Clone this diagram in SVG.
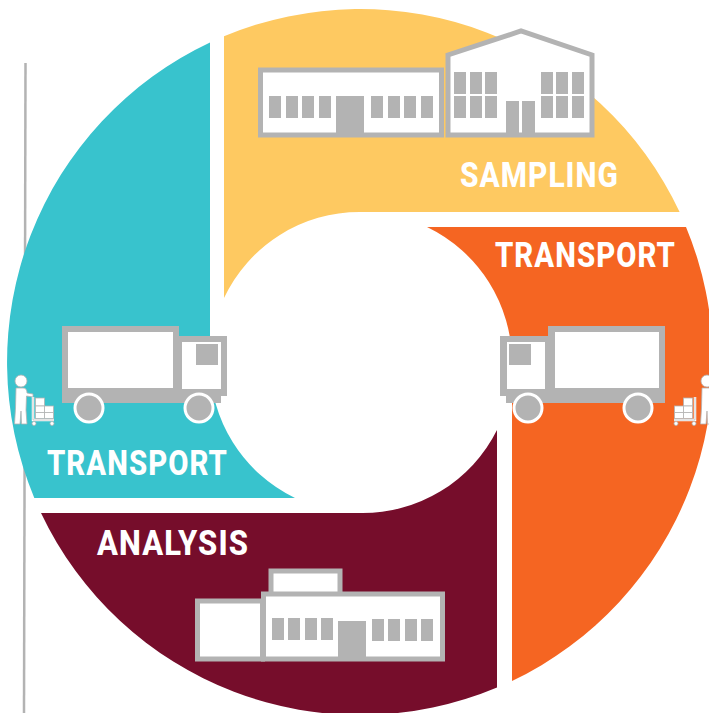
<svg xmlns="http://www.w3.org/2000/svg" width="709" height="713" viewBox="0 0 709 713">
<style>
.g{fill:#b3b3b3}
.w{fill:#fff}
.b{fill:#fff;stroke:#b3b3b3;stroke-width:5}
.t{font-family:"Roboto","Liberation Sans",sans-serif;font-weight:800;font-size:34.500px;fill:#fff;letter-spacing:1.200px}
.o{fill:#fff;stroke:#b3b3b3;stroke-width:.8}
</style>
<defs>
<g id="man">
<circle cx="0" cy="-41" r="6" class="o"/>
<path d="M-5,-34H2C5,-34 6,-32 6,-29L12,-28V-25L5.500,-26L5,-12L6,2H0.500L0,-11L-1,2H-6.500L-5.500,-14Z" class="o"/>
</g>
<g id="cart">
<path d="M1,-24V-1H22" fill="none" stroke="#fff" stroke-width="2.500"/>
<path d="M1,-24V-1H22" fill="none" stroke="#b3b3b3" stroke-width=".7"/>
<rect x="3.500" y="-23" width="9" height="8" class="o"/>
<rect x="3.500" y="-15" width="9" height="6.500" class="o"/>
<rect x="12.500" y="-15" width="9" height="6.500" class="o"/>
<rect x="3.500" y="-8.500" width="9" height="6" class="o"/>
<rect x="12.500" y="-8.500" width="9" height="6" class="o"/>
<circle cx="2" cy="2.500" r="2" class="o"/>
<circle cx="20" cy="2.500" r="2" class="o"/>
</g>
</defs>
<line x1="25.500" y1="63" x2="24" y2="713" stroke="#b3b3b3" stroke-width="2.500" id="rule"/>
<g id="sampling">
<path d="M224,36.300A353,353 0 0 1 679.600,212H360A150,150 0 0 0 224,298Z" fill="#fec961"/>
<rect x="260.500" y="70" width="181" height="65" class="b"/>
<g class="g">
<rect x="269" y="96" width="12" height="22"/><rect x="286" y="96" width="12" height="22"/><rect x="302" y="96" width="12" height="22"/><rect x="319" y="96" width="12" height="22"/>
<rect x="336" y="96" width="28" height="37"/>
<rect x="371" y="96" width="12" height="22"/><rect x="388" y="96" width="12" height="22"/><rect x="404" y="96" width="12" height="22"/><rect x="421" y="96" width="12" height="22"/>
</g>
<path d="M448,135V55L521,31L592,55V135Z" class="b"/>
<g class="g">
<rect x="454" y="72" width="12" height="22"/><rect x="470" y="72" width="12" height="22"/><rect x="485" y="72" width="12" height="22"/>
<rect x="454" y="96" width="12" height="22"/><rect x="470" y="96" width="12" height="22"/><rect x="485" y="96" width="12" height="22"/>
<rect x="541" y="72" width="12" height="22"/><rect x="556" y="72" width="12" height="22"/><rect x="572" y="72" width="12" height="22"/>
<rect x="541" y="96" width="12" height="22"/><rect x="556" y="96" width="12" height="22"/><rect x="572" y="96" width="12" height="22"/>
<rect x="506" y="101" width="13" height="32"/><rect x="522" y="101" width="13" height="32"/>
</g>
<text x="460" y="187" class="t" textLength="159" lengthAdjust="spacingAndGlyphs">SAMPLING</text>
</g>
<g id="transport-right">
<path d="M427,227H686A353,353 0 0 1 512,681V362A150,150 0 0 0 427,227Z" fill="#f56522"/>
<path d="M548,326H665V403H506V396H500V336H548Z" class="g"/>
<rect x="507" y="342" width="38" height="47" class="w"/>
<rect x="509" y="344" width="22" height="21" class="g"/>
<rect x="555" y="332" width="104" height="56" class="w"/>
<circle cx="528" cy="408" r="14" class="g" stroke="#fff" stroke-width="3"/>
<circle cx="638" cy="408" r="14" class="g" stroke="#fff" stroke-width="3"/>
<use href="#man" transform="translate(707,422)"/>
<use href="#cart" transform="translate(696,421) scale(-1,1)"/>
<text x="495" y="267" class="t" textLength="181" lengthAdjust="spacingAndGlyphs">TRANSPORT</text>
</g>
<g id="analysis">
<path d="M41,513H360A150,150 0 0 0 497,430V687.400A353,353 0 0 1 41,513Z" fill="#760d2b"/>
<rect x="197.500" y="601" width="65" height="58" class="b"/>
<rect x="271" y="571" width="69" height="24" class="b"/>
<rect x="263.500" y="594" width="179" height="65" class="b"/>
<g class="g">
<rect x="272" y="618" width="12" height="22"/><rect x="288" y="618" width="12" height="22"/><rect x="305" y="618" width="12" height="22"/><rect x="321" y="618" width="12" height="22"/>
<rect x="338" y="621" width="28" height="37"/>
<rect x="372" y="619" width="12" height="22"/><rect x="388" y="619" width="12" height="22"/><rect x="405" y="619" width="12" height="22"/><rect x="421" y="619" width="12" height="22"/>
</g>
<text x="97" y="555" class="t" textLength="152" lengthAdjust="spacingAndGlyphs">ANALYSIS</text>
</g>
<g id="transport-left">
<path d="M210,42.500V362A150,150 0 0 0 295,498H34.300A353,353 0 0 1 210,42.500Z" fill="#38c3cd"/>
<path d="M62,326H179V336H227V396H221V403H62Z" class="g"/>
<rect x="68" y="332" width="105" height="56" class="w"/>
<rect x="182" y="342" width="39" height="47" class="w"/>
<rect x="196" y="344" width="22" height="21" class="g"/>
<circle cx="89" cy="408" r="14" class="g" stroke="#fff" stroke-width="3"/>
<circle cx="199" cy="408" r="14" class="g" stroke="#fff" stroke-width="3"/>
<use href="#man" transform="translate(21,422)"/>
<use href="#cart" transform="translate(32,421)"/>
<text x="47" y="475" class="t" textLength="181" lengthAdjust="spacingAndGlyphs">TRANSPORT</text>
</g>
</svg>
